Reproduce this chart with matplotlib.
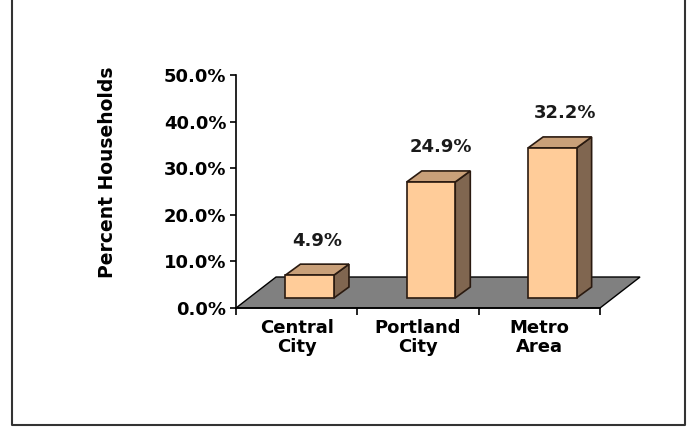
import matplotlib.pyplot as plt
from matplotlib.patches import Polygon, Rectangle

categories = ['Central\nCity', 'Portland\nCity', 'Metro\nArea']
values = [4.9, 24.9, 32.2]
y_ticks = [0, 10, 20, 30, 40, 50]

# colours of the fake 3D bars
front_color = '#FFCC99'
top_color = '#C9A079'
side_color = '#806650'
edge_color = '#2a1a10'
floor_color = '#808080'

# depth offsets (category units, percent units)
floor_dx, floor_dy = 0.33, 6.65
bar_dx, bar_dy = 0.107, 2.15
depth_dx, depth_dy = 0.124, 2.36
bar_w = 0.40

fig = plt.figure(figsize=(6.97, 4.28), dpi=100)
ax = fig.add_axes([236 / 697, 1 - 308 / 428, 364 / 697, 233 / 428])
ax.set_xlim(0, len(categories))
ax.set_ylim(0, 50)

# floor
n = len(categories)
floor = Polygon([(0, 0), (n, 0), (n + floor_dx, floor_dy), (floor_dx, floor_dy)],
                closed=True, facecolor=floor_color, edgecolor='black', lw=1,
                clip_on=False, zorder=1)
ax.add_patch(floor)

# bars
for i, v in enumerate(values):
    x0 = i + 0.5 - bar_w / 2 + bar_dx
    y0 = bar_dy
    side = Polygon([(x0 + bar_w, y0), (x0 + bar_w + depth_dx, y0 + depth_dy),
                    (x0 + bar_w + depth_dx, y0 + v + depth_dy), (x0 + bar_w, y0 + v)],
                   closed=True, facecolor=side_color, edgecolor=edge_color, lw=1.2,
                   clip_on=False, zorder=3)
    top = Polygon([(x0, y0 + v), (x0 + bar_w, y0 + v),
                   (x0 + bar_w + depth_dx, y0 + v + depth_dy), (x0 + depth_dx, y0 + v + depth_dy)],
                  closed=True, facecolor=top_color, edgecolor=edge_color, lw=1.2,
                  clip_on=False, zorder=3)
    front = Rectangle((x0, y0), bar_w, v, facecolor=front_color, edgecolor=edge_color,
                      lw=1.2, clip_on=False, zorder=4)
    ax.add_patch(side)
    ax.add_patch(top)
    ax.add_patch(front)
    ax.annotate(f'{v:.1f}%', xy=(x0 + bar_w / 2 + depth_dx / 2, y0 + v + depth_dy),
                xytext=(2 * i, 17), textcoords='offset points', ha='center', va='center',
                fontsize=13, fontweight='bold', color='#1a1a1a', annotation_clip=False)

# axes styling
for s in ['top', 'right']:
    ax.spines[s].set_visible(False)
ax.spines['left'].set_linewidth(1.2)
ax.spines['bottom'].set_linewidth(1.2)
ax.spines['bottom'].set_zorder(5)

ax.set_yticks(y_ticks)
ax.set_yticklabels([f'{t:.1f}%' for t in y_ticks], fontsize=13, fontweight='bold')
ax.tick_params(axis='y', length=4, width=1.2, pad=3)

ax.set_xticks(range(n + 1))
ax.set_xticklabels([])
ax.set_xticks([i + 0.5 for i in range(n)], minor=True)
ax.set_xticklabels(categories, minor=True, fontsize=13, fontweight='bold',
                   linespacing=1.05)
ax.tick_params(axis='x', which='major', length=5, width=1.2, direction='out')
ax.tick_params(axis='x', which='minor', length=0, pad=8)

ax.set_ylabel('Percent Households', fontsize=13.5, fontweight='bold')
ax.yaxis.set_label_coords(-119 / 364, (308 - 172) / 233)

# frame around the figure (top is cut off)
fig.add_artist(plt.Line2D([12 / 697, 12 / 697, 685 / 697, 685 / 697],
                          [1.0, 3 / 428, 3 / 428, 1.0],
                          transform=fig.transFigure, color='#333333', lw=1.5))

fig.savefig('out.png', dpi=100)
